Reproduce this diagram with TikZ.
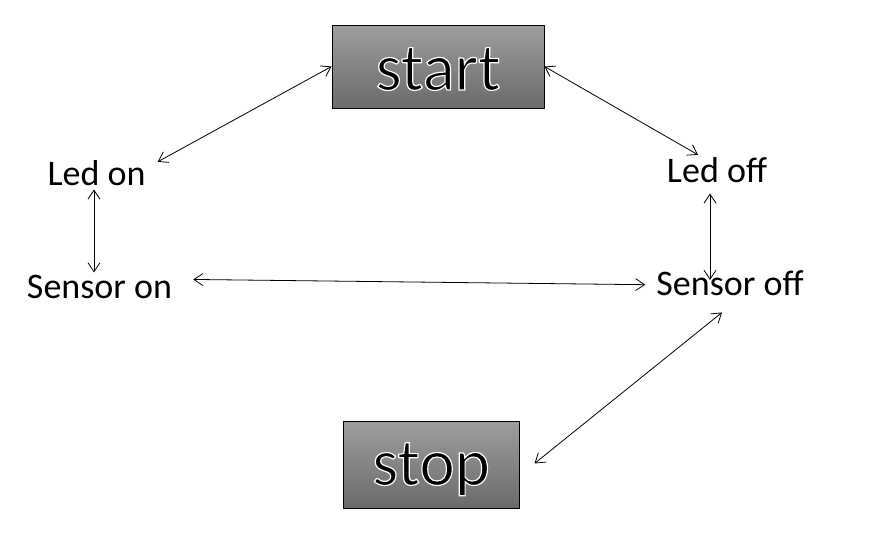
\documentclass[tikz,border=0pt]{standalone}
\usepackage{fontspec}
\setmainfont{Carlito}
\usepackage{tikz}
\usetikzlibrary{arrows.meta,calc}
\definecolor{box_top}{HTML}{9E9E9E}
\definecolor{box_bottom}{HTML}{6A6A6A}

% black letters with a thin white rim
\newcommand{\rimtext}[1]{\special{pdf:code 2 Tr 1 G 1.2 w}#1\special{pdf:code 0 Tr 0 G 0.4 w}}

\tikzset{
  statebox/.style={draw=black, line width=1, top color=box_top,
    bottom color=box_bottom, minimum width=212, minimum height=83,
    text depth=0pt, font=\fontsize{67}{72}\selectfont},
  label text/.style={anchor=base, inner sep=2,
    font=\fontsize{36}{40}\selectfont},
  link/.style={line width=0.8,
    {Straight Barb[length=9,width=12]}-{Straight Barb[length=9,width=12]}},
}

\begin{document}
\begin{tikzpicture}[x=1pt,y=-1pt]

    \useasboundingbox[fill=white] (0,0) rectangle (886,547);

    % the two boxes
    \node[statebox,text height=47] (start) at (438,66.5) {\rimtext{start}};
    \node[statebox,text height=41,minimum width=176,minimum height=87] (stop)
        at (431,464.5) {\rimtext{stop}};

    % states
    \node[label text] (ledon) at (96.5,185) {Led on};
    \node[label text] (sensoron) at (99.5,298) {Sensor on};
    \node[label text] (ledoff) at (717,182) {Led off};
    \node[label text] (sensoroff) at (730,295) {Sensor off};

    \draw[link] (start.west) -- ([shift={(10,4)}]ledon.north east);
    \draw[link] (start.east) -- ([xshift=-19]ledoff.north);

    \draw[link] ([shift={(-2.5,2)}]ledon.south)
        -- ([xshift=-2.5]ledon.south |- sensoron.north);
    \draw[link] ([shift={(-7,9)}]ledoff.south)
        -- ([shift={(-20,12)}]sensoroff.north);

    \draw[link] ([shift={(19,-7)}]sensoron.east)
        -- ([shift={(-9,2)}]sensoroff.west);

    \draw[link] ([shift={(-8,15)}]sensoroff.south)
        -- ([shift={(15,-1)}]stop.east);

\end{tikzpicture}
\end{document}
